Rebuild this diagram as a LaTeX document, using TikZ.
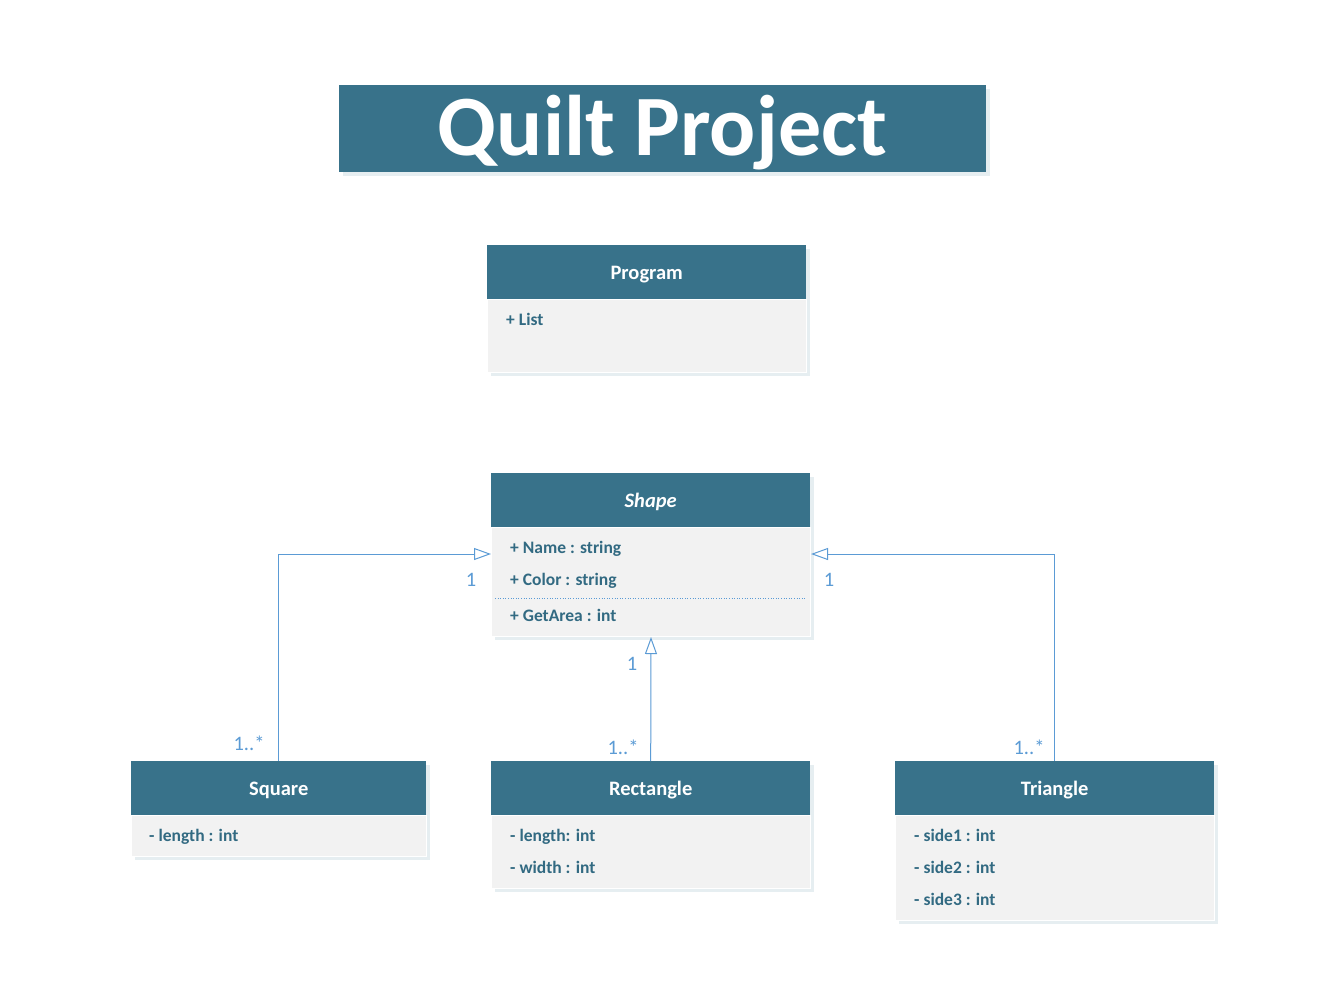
\documentclass[tikz,border=0pt]{standalone}
\usepackage{fontspec}
\setmainfont{Carlito}
\usetikzlibrary{arrows.meta,calc}
\definecolor{hdr}{RGB}{56,114,138}
\definecolor{bodyc}{RGB}{242,242,242}
\definecolor{txtc}{RGB}{50,106,130}
\definecolor{conc}{RGB}{91,155,213}
\definecolor{shad}{RGB}{230,238,241}
\tikzset{
  hdrbox/.style={fill=hdr, text=white, inner sep=0pt, anchor=north west, text height=15pt, text depth=0pt, font=\bfseries\fontsize{20.5}{24}\selectfont},
  bodybox/.style={fill=bodyc, draw=white, line width=1pt, inner sep=0pt, anchor=north west},
  shadowbox/.style={fill=shad},
  attr/.style={text=txtc, anchor=west, inner sep=0pt, font=\bfseries\fontsize{17.5}{20}\selectfont, text height=11pt, text depth=0pt},
  conn/.style={draw=conc, line width=1pt},
  gen/.style={conn, -{Triangle[open, length=17pt, width=12pt, fill=white]}},
  mult/.style={text=conc, inner sep=0pt, font=\fontsize{20.5}{24}\selectfont},
}
\begin{document}
\begin{tikzpicture}[x=1pt, y=-1pt]
\fill[white] (0,0) rectangle (1331,1005);
\useasboundingbox (0,0) rectangle (1331,1005);

% Title
\fill[shadowbox] (343,89) rectangle (990,176);
\node[fill=hdr, text=white, inner sep=0pt, minimum width=647pt, minimum height=87pt, text height=55pt, text depth=2pt, font=\bfseries\fontsize{86}{90}\selectfont] (title) at (662.5,128.5) {Quilt Project};

% Program
\fill[shadowbox] (491,249) rectangle (810,376);
\node[hdrbox, minimum width=319pt, minimum height=54pt] (progH) at (487,245) {Program};
\node[bodybox, minimum width=319pt, minimum height=73pt] (progB) at (487,299) {};
\node[attr] (progA1) at (506,320) {+ List};

% Shape
\fill[shadowbox] (495,477) rectangle (814,640);
\node[hdrbox, minimum width=319pt, minimum height=54pt, font=\bfseries\itshape\fontsize{20.5}{24}\selectfont] (shapeH) at (491,473) {Shape};
\node[bodybox, minimum width=319pt, minimum height=109pt] (shapeB) at (491,527) {};
\node[attr] (shapeA1) at (510,548) {+ Name : string};
\node[attr] (shapeA2) at (510,580) {+ Color : string};
\draw[conc, line width=0.6pt, dotted] (495,598) -- (805,598);
\node[attr] (shapeM1) at (510,616) {+ GetArea : int};

% Square
\fill[shadowbox] (135,765) rectangle (430,860);
\node[hdrbox, minimum width=295pt, minimum height=54pt] (sqH) at (131,761) {Square};
\node[bodybox, minimum width=295pt, minimum height=41pt] (sqB) at (131,815) {};
\node[attr] (sqA1) at (149,836) {- length : int};

% Rectangle
\fill[shadowbox] (495,765) rectangle (814,892);
\node[hdrbox, minimum width=319pt, minimum height=54pt] (recH) at (491,761) {Rectangle};
\node[bodybox, minimum width=319pt, minimum height=73pt] (recB) at (491,815) {};
\node[attr] (recA1) at (510,836) {- length: int};
\node[attr] (recA2) at (510,868) {- width : int};

% Triangle
\fill[shadowbox] (899,765) rectangle (1218,924);
\node[hdrbox, minimum width=319pt, minimum height=54pt] (triH) at (895,761) {Triangle};
\node[bodybox, minimum width=319pt, minimum height=105pt] (triB) at (895,815) {};
\node[attr] (triA1) at (914,836) {- side1 : int};
\node[attr] (triA2) at (914,868) {- side2 : int};
\node[attr] (triA3) at (914,900) {- side3 : int};

% Connectors
\draw[gen] (sqH.north) |- ([yshift=-27pt]shapeB.north west);
\draw[gen] (recH.north) -- (shapeB.south);
\draw[gen] (triH.north) |- ([yshift=-27pt]shapeB.north east);

% Multiplicities
\node[mult] (m1) at (471,580) {1};
\node[mult] (m2) at (829,580) {1};
\node[mult] (m3) at (632,664) {1};
\node[mult] (m4) at (249,743) {1..*};
\node[mult] (m5) at (623,747) {1..*};
\node[mult] (m6) at (1029,747) {1..*};
\end{tikzpicture}
\end{document}
